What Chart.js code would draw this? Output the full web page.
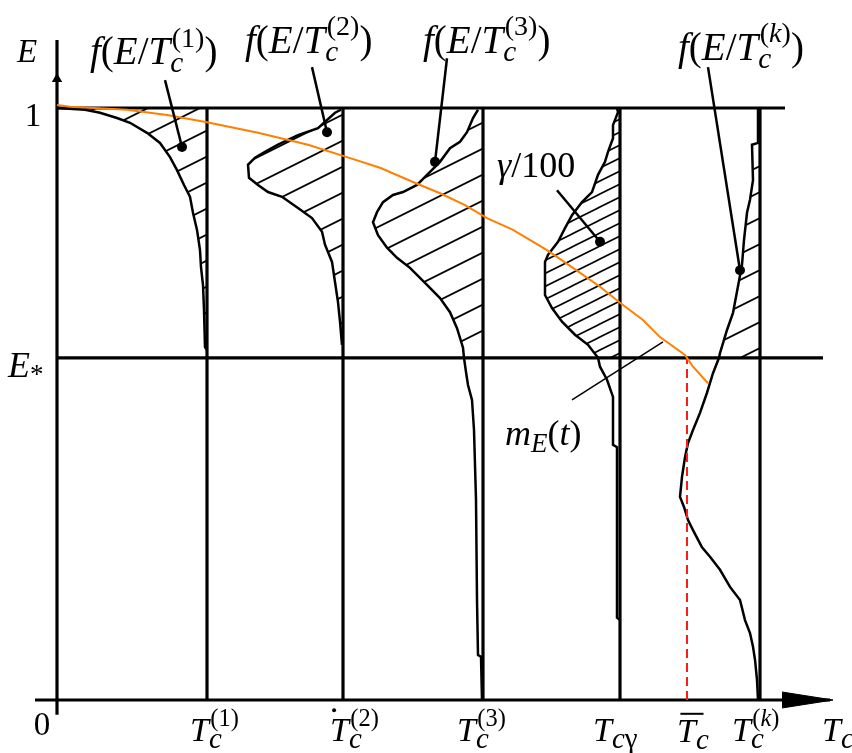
<!DOCTYPE html>
<html><head><meta charset="utf-8">
<script src="https://cdn.jsdelivr.net/npm/chart.js@4.4.1/dist/chart.umd.min.js"></script>
<style>html,body{margin:0;padding:0;background:#fff;}canvas{display:block;}</style>
</head><body>
<canvas id="c" width="852" height="753"></canvas>
<script>
// ------------------ data ------------------
const tcIndex  = ['1', '2', '3', 'k'];          // superscripts of T_c^(i)
const tcValues = [15.0, 28.6, 42.6, 70.3];     // T_c^(1), T_c^(2), T_c^(3), T_c^(k)
const tcGamma  = 56.3;                         // T_cγ
const tcMean   = 63.0;                         // mean T_c
const eTop     = 1;                            // E = 1
const eStar    = 0.578;                        // E*

// density f(E/T_c^(1)) : E values and horizontal extent (left of T_c^(1))
const f1E = [1.000,0.997,0.992,0.983,0.975,0.958,0.941,0.917,0.895,0.870,0.850,0.823,0.794,0.760,0.731,0.701,0.659,0.596,0.591];
const f1D = [15.0,12.2,10.7,9.0,7.7,6.0,4.7,3.7,3.0,2.3,1.7,1.4,1.0,0.7,0.6,0.4,0.3,0.2,0.0];
// f(E/T_c^(2))
const f2E = [0.997,0.992,0.966,0.954,0.938,0.926,0.916,0.904,0.882,0.870,0.858,0.850,0.831,0.814,0.791,0.769,0.740,0.706,0.672,0.639,0.600];
const f2D = [0.2,0.8,2.5,4.5,6.5,7.8,8.8,9.5,9.4,8.5,7.5,6.1,4.5,3.1,2.1,1.8,1.1,0.8,0.5,0.3,0.1];
// f(E/T_c^(3))
const f3E = [0.997,0.983,0.959,0.943,0.932,0.909,0.887,0.870,0.858,0.853,0.841,0.824,0.807,0.785,0.764,0.747,0.730,0.701,0.679,0.655,0.628,0.595,0.578,0.554,0.532,0.507,0.456,0.338,0.169,0.076,0.073,0.0];
const f3D = [0.5,1.0,1.6,2.3,3.3,4.3,5.6,6.6,8.0,9.0,10.0,10.6,11.0,10.5,9.6,8.6,7.3,5.6,4.3,3.3,2.6,2.0,1.9,1.7,1.5,1.1,0.9,0.7,0.6,0.5,0.2,0.1];
// f(E/T_cγ)
const fgE = [1.000,0.993,0.971,0.949,0.926,0.909,0.887,0.858,0.841,0.819,0.797,0.774,0.752,0.740,0.684,0.662,0.639,0.617,0.600,0.578,0.563,0.541,0.512,0.431,0.427,0.139,0.135];
const fgD = [0.3,0.2,0.7,0.7,1.2,1.5,2.2,2.8,3.8,4.8,5.5,6.2,7.2,7.5,7.5,6.8,5.8,4.5,3.2,2.2,2.0,1.3,0.7,0.7,0.3,0.3,0.0];
// f(E/T_c^(k))
const fkE = [1.000,0.941,0.938,0.878,0.845,0.823,0.777,0.735,0.654,0.625,0.586,0.578,0.552,0.519,0.485,0.456,0.434,0.410,0.377,0.343,0.326,0.304,0.287,0.258,0.242,0.220,0.191,0.169,0.135,0.113,0.090,0.068,0.034,0.0];
const fkD = [0.2,0.2,0.8,0.7,1.0,1.3,1.6,1.8,2.7,3.3,4.0,4.1,4.7,5.3,6.0,6.7,7.2,7.5,7.8,8.0,7.6,7.2,6.7,5.8,5.0,4.0,3.0,2.0,1.5,1.0,0.7,0.5,0.3,0.2];
// m_E(t)
const mT = [0,1.3,7.0,11.0,15.0,20.1,25.1,29.0,32.3,35.6,38.3,40.8,43.0,45.6,49.0,51.6,54.3,56.3,58.6,60.3,62.8,63.6,65.1];
const mE = [1.005,1.002,0.997,0.988,0.976,0.958,0.938,0.917,0.899,0.875,0.856,0.836,0.814,0.794,0.760,0.730,0.698,0.671,0.642,0.613,0.583,0.563,0.535];

// ------------------ layout (not data) ------------------
const view = {xMin: -2.2, xMax: 77.8, yMin: -0.0304, yMax: 1.1182};
const axisExt = {xLeft: -2.2, xRight: 77.3, yBottom: -0.025, yTop: 1.115, yArrow: 1.049,
                 topLineEnd: 72.8, starLineEnd: 76.6, arrowBase: 72.5, arrowHalf: 0.0135};
const pointers = [
  {from: [10.8, 1.047], to: [12.5, 0.934]},
  {from: [25.5, 1.069], to: [27.0, 0.959]},
  {from: [39.0, 1.084], to: [37.8, 0.909]},
  {from: [50.0, 0.861], to: [54.3, 0.774]},
  {from: [65.1, 1.069], to: [68.3, 0.726]}
];
const mPointer = {from: [51.5, 0.507], to: [60.6, 0.605]};

const FONT = '"Liberation Serif","Times New Roman",serif';
function fLabel(n) {
  return [{t:'f',i:1},{t:'('},{t:'E',i:1},{t:'/'},{t:'T',i:1},
          {sub:[{t:'c',i:1}], sup:[{t:'('},{t:n,i:n==='k'},{t:')'}]},{t:')'}];
}
function tLabel(n, extra) {
  const T = Object.assign({t:'T',i:1}, extra || {});
  const p = [T];
  if (n) p.push({sub:[{t:'c',i:1}], sup:[{t:'('},{t:n,i:n==='k'},{t:')'}]});
  else p.push({sub:[{t:'c',i:1}]});
  return p;
}
const labels = [
  {x:-4.0, y:1.078, size:33, parts:[{t:'E',i:1}]},
  {x:-2.4, y:0.970, size:33, align:'center', parts:[{t:'1'}]},
  {x:-1.5, y:-0.059, size:33, align:'center', parts:[{t:'0'}]},
  {x:-4.9, y:0.546, size:36, parts:[{t:'E',i:1},{t:'*', size:0.75, dy:0.16}]},
  {x:3.3,  y:1.074, size:39, parts:fLabel(tcIndex[0])},
  {x:18.8, y:1.093, size:39, parts:fLabel(tcIndex[1])},
  {x:36.6, y:1.093, size:39, parts:fLabel(tcIndex[2])},
  {x:62.1, y:1.081, size:39, parts:fLabel(tcIndex[3])},
  {x:44.0, y:0.883, size:36, parts:[{t:'γ',i:1},{t:'/100'}]},
  {x:44.8, y:0.431, size:36, parts:[{t:'m',i:1},{sub:[{t:'E',i:1}]},{t:'('},{t:'t',i:1},{t:')'}]},
  {x:13.3, y:-0.069, size:34, sub:0.85, parts:tLabel(tcIndex[0])},
  {x:27.3, y:-0.069, size:34, sub:0.85, parts:tLabel(tcIndex[1], {dot:true})},
  {x:40.0, y:-0.069, size:34, sub:0.85, parts:tLabel(tcIndex[2])},
  {x:53.6, y:-0.069, size:34, sub:0.85, parts:[{t:'T',i:1},{sub:[{t:'c',i:1},{t:'γ'}]}]},
  {x:62.0, y:-0.071, size:34, sub:0.85, parts:tLabel(null, {bar:true})},
  {x:67.5, y:-0.069, size:34, sub:0.85, parts:tLabel(tcIndex[3])},
  {x:76.5, y:-0.069, size:34, sub:0.85, parts:tLabel(null)}
];

// ------------------ helpers ------------------
function hatch(h, lw) {
  const w = 2 * h;
  const c = document.createElement('canvas'); c.width = w; c.height = h;
  const g = c.getContext('2d');
  g.strokeStyle = '#000'; g.lineWidth = lw;
  for (const k of [-1, 0, 1]) {
    g.beginPath(); g.moveTo(-w, 2*h + k*h); g.lineTo(2*w, -h + k*h); g.stroke();
  }
  return g.createPattern(c, 'repeat');
}
const hatchWide = hatch(26, 1.8);
const hatchTight = hatch(13, 1.6);

function curvePts(T, E, D) { return E.map((e, i) => ({x: T - D[i], y: e})); }
function hatchPts(T, E, D) {
  const p = [];
  E.forEach((e, i) => { if (e >= eStar - 1e-9) p.push({x: T - D[i], y: e}); });
  p.push({x: T, y: p[p.length - 1].y});
  p.push({x: T, y: p[0].y});
  return p;
}
function L(data, color, width, extra) {
  return Object.assign({data, borderColor: color, borderWidth: width, pointRadius: 0,
    fill: false, tension: 0, clip: false, borderCapStyle: 'butt'}, extra || {});
}
const P = a => ({x: a[0], y: a[1]});

const ds = [];
// pointers (top)
pointers.forEach(p => ds.push(L([P(p.from), P(p.to)], '#000', 2.5,
  {pointRadius: [0, 5], pointBackgroundColor: '#000', pointBorderWidth: 0})));
ds.push(L([P(mPointer.from), P(mPointer.to)], '#000', 1.5));
// orange m_E(t)
ds.push(L(mT.map((t, i) => ({x: t, y: mE[i]})), '#FF8000', 2));
// red dashed mean line
ds.push(L([{x: tcMean, y: 0}, {x: tcMean, y: eStar}], '#FF1A1A', 2, {borderDash: [9, 5]}));
// axes
ds.push(L([{x: 0, y: axisExt.yBottom}, {x: 0, y: axisExt.yTop}], '#000', 3.2));
ds.push(L([{x: axisExt.xLeft, y: 0}, {x: axisExt.xRight, y: 0}], '#000', 3.2));
ds.push(L([{x: 0, y: axisExt.yArrow}], '#000', 0, {pointRadius: 6, pointStyle: 'triangle',
  pointBackgroundColor: '#000', pointBorderWidth: 0, showLine: false}));
ds.push(L([{x: axisExt.arrowBase, y: axisExt.arrowHalf}, {x: axisExt.xRight + 0.3, y: 0},
  {x: axisExt.arrowBase, y: -axisExt.arrowHalf}], '#000', 1, {fill: 'shape', backgroundColor: '#000'}));
// horizontal lines
ds.push(L([{x: 0, y: eTop}, {x: axisExt.topLineEnd, y: eTop}], '#000', 3.2));
ds.push(L([{x: 0, y: eStar}, {x: axisExt.starLineEnd, y: eStar}], '#000', 3.2));
// vertical lines
[...tcValues, tcGamma].forEach(T => ds.push(L([{x: T, y: 0}, {x: T, y: eTop}], '#000', 3.2)));
// density curves
const curves = [[tcValues[0], f1E, f1D, hatchWide], [tcValues[1], f2E, f2D, hatchWide],
                [tcValues[2], f3E, f3D, hatchWide], [tcGamma, fgE, fgD, hatchTight],
                [tcValues[3], fkE, fkD, hatchWide]];
curves.forEach(c => ds.push(L(curvePts(c[0], c[1], c[2]), '#000', 2.5)));
// hatched parts (E >= E*)
curves.forEach(c => ds.push(L(hatchPts(c[0], c[1], c[2]), 'rgba(0,0,0,0)', 0,
  {fill: 'shape', backgroundColor: c[3], clip: undefined})));

// ------------------ text plugin ------------------
function run(ctx, parts, x, y, size, draw, subScale) {
  let cx = x;
  for (const p of parts) {
    if (p.sub || p.sup) {
      let w = 0;
      if (p.sub) w = Math.max(w, run(ctx, p.sub, cx, y + size * 0.2, size * subScale, draw, subScale));
      if (p.sup) w = Math.max(w, run(ctx, p.sup, cx + size * 0.04, y - size * 0.45, size * 0.72, draw, subScale) + size * 0.04);
      cx += w;
    } else {
      const s = size * (p.size || 1);
      ctx.font = (p.i ? 'italic ' : '') + s + 'px ' + FONT;
      const w = ctx.measureText(p.t).width;
      if (draw) {
        ctx.fillText(p.t, cx, y + (p.dy || 0) * size);
        if (p.bar) ctx.fillRect(cx + s * 0.1, y - s * 0.86, s * 0.68, 2);
        if (p.dot) { ctx.beginPath(); ctx.arc(cx + s * 0.12, y - s * 0.9, 2, 0, Math.PI * 2); ctx.fill(); }
      }
      cx += w;
    }
  }
  return cx - x;
}
const textPlugin = {
  id: 'texts',
  afterDraw(chart) {
    const ctx = chart.ctx, xs = chart.scales.x, ys = chart.scales.y;
    ctx.save();
    ctx.fillStyle = '#000';
    ctx.textBaseline = 'alphabetic';
    ctx.textAlign = 'left';
    for (const lb of labels) {
      let px = xs.getPixelForValue(lb.x);
      const py = ys.getPixelForValue(lb.y);
      const sub = lb.sub || 0.75;
      if (lb.align === 'center') px -= run(ctx, lb.parts, 0, 0, lb.size, false, sub) / 2;
      run(ctx, lb.parts, px, py, lb.size, true, sub);
    }
    ctx.restore();
  }
};

new Chart(document.getElementById('c'), {
  type: 'line',
  data: {datasets: ds},
  options: {
    responsive: false, animation: false, devicePixelRatio: 1,
    layout: {padding: {left: 35, right: 17, top: 38, bottom: 35}},
    scales: {
      x: {type: 'linear', min: view.xMin, max: view.xMax, display: false},
      y: {type: 'linear', min: view.yMin, max: view.yMax, display: false}
    },
    plugins: {legend: {display: false}, tooltip: {enabled: false}},
    elements: {point: {radius: 0, hoverRadius: 0}, line: {tension: 0}}
  },
  plugins: [textPlugin]
});
</script>
</body></html>
